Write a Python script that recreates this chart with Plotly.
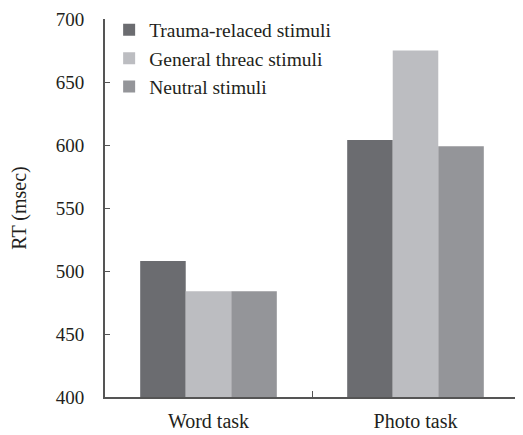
import plotly.graph_objects as go

categories = ["Word task", "Photo task"]
series_names = ["Trauma-relaced stimuli", "General threac stimuli", "Neutral stimuli"]
trauma = [508, 604]
general = [484, 675]
neutral = [484, 599]
colors = ["#6b6c70", "#bcbdc1", "#949599"]
y_ticks = [400, 450, 500, 550, 600, 650, 700]

font_family = "Liberation Serif, DejaVu Serif, serif"
fs = 19

fig = go.Figure()
for name, vals, col in zip(series_names, [trauma, general, neutral], colors):
    fig.add_trace(go.Bar(x=categories, y=vals, name=name, marker=dict(color=col, line=dict(width=0))))

# page body has an 8px default margin, so the figure is sized to fit the window
fig.update_layout(
    template="none",
    width=515, height=427,
    margin=dict(l=97, r=4, t=11, b=38, pad=0, autoexpand=False),
    paper_bgcolor="white", plot_bgcolor="white",
    barmode="group", bargap=0.34, bargroupgap=0,
    font=dict(family=font_family, size=fs, color="#231f20"),
    showlegend=True,
    legend=dict(x=0.01, y=1.022, xanchor="left", yanchor="top", bgcolor="rgba(0,0,0,0)",
                font=dict(size=19.5, family=font_family), tracegroupgap=0,
                traceorder="normal"),
)
fig.update_yaxes(
    range=[400, 700], tickvals=y_ticks, ticks="inside", ticklen=5, tickcolor="#555",
    showline=True, linecolor="#555", linewidth=2, showgrid=False, zeroline=False,
    title=dict(text="RT (msec)", font=dict(size=20), standoff=27),
    tickfont=dict(size=fs), ticklabelstandoff=15, automargin=False,
)
fig.update_xaxes(
    showline=True, linecolor="#555", linewidth=2, ticks="inside", tickson="boundaries",
    ticklen=6, tickcolor="#555", showgrid=False, tickfont=dict(size=20), automargin=False,
    ticklabelstandoff=5,
)

fig.write_html("out.html")
